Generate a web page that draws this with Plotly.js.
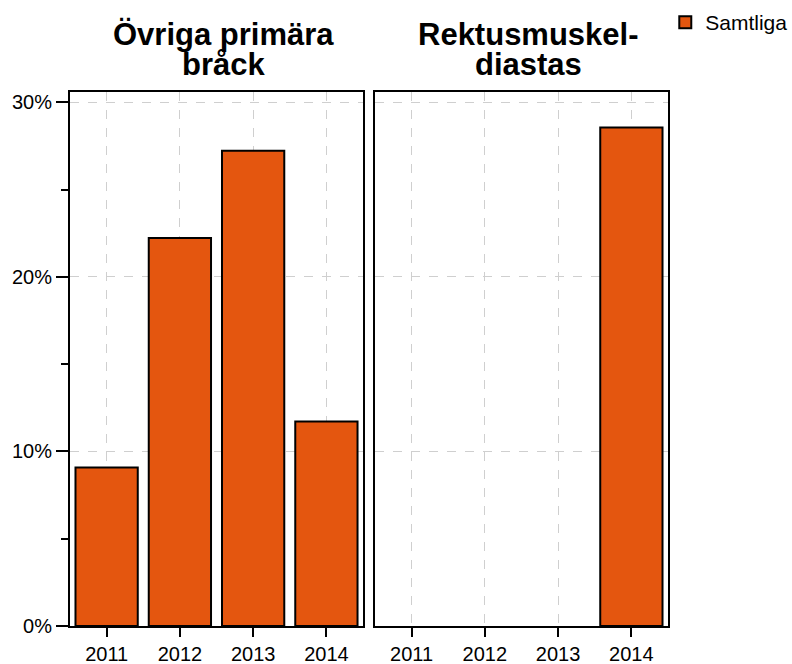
<!DOCTYPE html>
<html>
<head>
<meta charset="utf-8">
<script src="https://cdn.plot.ly/plotly-3.0.1.min.js"></script>
<style>body{margin:0;background:#fff}</style>
</head>
<body>
<div id="chart" style="width:792px;height:664px"></div>
<script>
// Data
const years = ['2011', '2012', '2013', '2014'];
const ovrigaValues = [0.0908, 0.2224, 0.2724, 0.1172];
const rektusValues = [null, null, null, 0.2856];
const titleLines = [
    ['Övriga primära', 'bråck'],
    ['Rektusmuskel-', 'diastas']
];
const seriesName = 'Samtliga';

const barColor = '#E4560F';
const fontFamily = 'Liberation Sans, Arial, sans-serif';
const font = { family: fontFamily, size: 20, color: '#000' };

const traces = [
    {
        x: years, y: ovrigaValues, type: 'bar', name: seriesName,
        xaxis: 'x', yaxis: 'y',
        marker: { color: barColor, line: { color: '#000', width: 2 } }
    },
    {
        x: years, y: rektusValues, type: 'bar', name: seriesName, showlegend: false,
        xaxis: 'x2', yaxis: 'y2',
        marker: { color: barColor, line: { color: '#000', width: 2 } }
    }
];

const xBase = {
    type: 'category',
    range: [-0.5, 3.5],
    showline: true, mirror: true, linecolor: '#000', linewidth: 2,
    ticks: 'outside', ticklen: 9, tickwidth: 2, tickcolor: '#000',
    showgrid: true, gridcolor: '#cfcfcf', griddash: 'dash', gridwidth: 1,
    zeroline: false, fixedrange: true
};
const yBase = {
    range: [0, 0.306],
    dtick: 0.1, tickformat: '.0%',
    showline: true, mirror: true, linecolor: '#000', linewidth: 2,
    showgrid: true, gridcolor: '#cfcfcf', griddash: 'dash', gridwidth: 1,
    zeroline: false, fixedrange: true
};

// one annotation per title line, so the line spacing can be tight
const titleAnnotations = [];
titleLines.forEach((lines, i) => {
    lines.forEach((line, j) => {
        titleAnnotations.push({
            text: '<b>' + line + '</b>',
            xref: i === 0 ? 'x domain' : 'x2 domain', x: 0.5, xanchor: 'center', xshift: 7,
            yref: 'paper', y: 1, yanchor: 'middle', yshift: 58 - j * 30,
            showarrow: false,
            font: { family: fontFamily, size: 31, color: '#000' }
        });
    });
});

const layout = {
    width: 792, height: 664,
    margin: { l: 70, r: 124, t: 92, b: 38, autoexpand: false },
    paper_bgcolor: '#fff', plot_bgcolor: '#fff',
    font: font,
    bargap: 0.15,
    showlegend: true,
    legend: {
        xref: 'container', yref: 'container',
        x: 0.84, xanchor: 'left', y: 0.997, yanchor: 'top',
        font: { family: fontFamily, size: 21, color: '#000' },
        bgcolor: 'rgba(0,0,0,0)'
    },
    xaxis: Object.assign({}, xBase, { domain: [0, 0.49], anchor: 'y' }),
    xaxis2: Object.assign({}, xBase, { domain: [0.51, 1], anchor: 'y2' }),
    yaxis: Object.assign({}, yBase, {
        anchor: 'x',
        ticks: 'outside', ticklen: 12, tickwidth: 2, tickcolor: '#000',
        minor: { dtick: 0.05, ticks: 'outside', ticklen: 7, tickwidth: 2, tickcolor: '#000', showgrid: false }
    }),
    yaxis2: Object.assign({}, yBase, { anchor: 'x2', showticklabels: false, ticks: '' }),
    annotations: titleAnnotations
};

Plotly.newPlot('chart', traces, layout, { staticPlot: true });
</script>
</body>
</html>
